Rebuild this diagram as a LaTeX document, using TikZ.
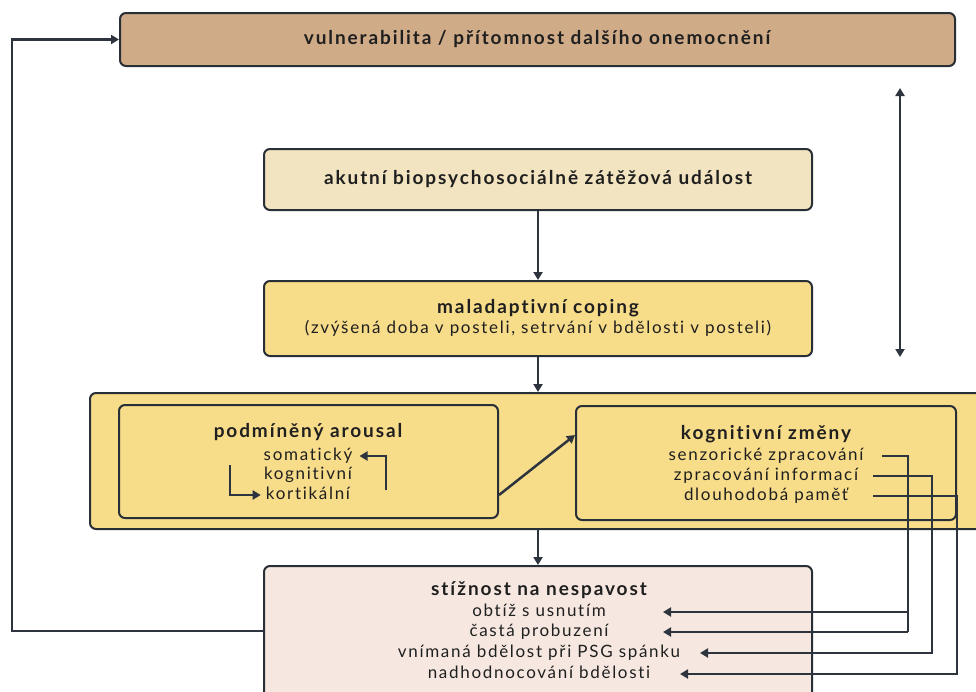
\documentclass[tikz,border=0pt]{standalone}
\usepackage{fontspec}
\setmainfont{Lato}[LetterSpace=10,Ligatures=NoCommon]
\usetikzlibrary{arrows.meta,calc}
\definecolor{tanc}{HTML}{CFAB88}
\definecolor{creamc}{HTML}{F2E4C0}
\definecolor{yelc}{HTML}{F7DC8A}
\definecolor{pinkc}{HTML}{F6E8E1}
\definecolor{inkc}{HTML}{2E343D}
\tikzset{
  box/.style={draw=inkc!90!black, line width=2pt, rounded corners=6pt, inner sep=0pt},
  txt/.style={inner sep=0pt, text height=12pt, text depth=4pt, font=\fontsize{17}{19}\selectfont, text=black!88},
  ttl/.style={txt, font=\fontsize{19}{21}\selectfont\bfseries},
  line/.style={draw=inkc, line width=2.5pt},
  arr/.style={line, -{Triangle[length=8pt,width=9pt]}},
  darr/.style={line, {Triangle[length=8pt,width=9pt]}-{Triangle[length=8pt,width=9pt]}},
}
\begin{document}
\begin{tikzpicture}[x=1pt,y=-1pt]
\clip (0,0) rectangle (976,691);
\fill[white] (0,0) rectangle (976,691);
% boxes
\node[box, fill=tanc, minimum width=835pt, minimum height=53pt] (top) at (537.5,39.5) {};
\node[box, fill=creamc, minimum width=548pt, minimum height=61pt] (b2) at (538,179.5) {};
\node[box, fill=yelc, minimum width=548pt, minimum height=75pt] (b3) at (538,318.5) {};
\node[box, fill=yelc, minimum width=905pt, minimum height=136pt] (big) at (542.5,461) {};
\node[box, fill=yelc, minimum width=379pt, minimum height=113pt] (inL) at (308.5,461.5) {};
\node[box, fill=yelc, minimum width=380pt, minimum height=114pt] (inR) at (766,463) {};
\node[box, fill=pinkc, minimum width=548pt, minimum height=134pt] (bot) at (538,633) {};
% texts
\node[ttl] (tT) at (537,40) {vulnerabilita / přítomnost dalšího onemocnění};
\node[ttl] (t2) at (538,180) {akutní biopsychosociálně zátěžová událost};
\node[ttl] (t3a) at (538,309) {maladaptivní coping};
\node[txt] (t3b) at (538,329) {(zvýšená doba v posteli, setrvání v bdělosti v posteli)};
\node[ttl] (tL) at (308,433) {podmíněný arousal};
\node[txt] (som) at (308,456) {somatický};
\node[txt] (kog) at (308,475) {kognitivní};
\node[txt] (kor) at (308,495) {kortikální};
\node[ttl] (tR) at (766,435) {kognitivní změny};
\node[txt] (senz) at (766,456) {senzorické zpracování};
\node[txt] (zpr) at (766,476) {zpracování informací};
\node[txt] (dlou) at (766,496) {dlouhodobá paměť};
\node[ttl] (tB) at (539,591) {stížnost na nespavost};
\node[txt] (obt) at (539,612) {obtíž s usnutím};
\node[txt] (cast) at (539,632) {častá probuzení};
\node[txt] (vnim) at (539,653) {vnímaná bdělost při PSG spánku};
\node[txt] (nadh) at (539,674) {nadhodnocování bdělosti};
% helper coordinates
\coordinate (fb) at (12,631);
\coordinate (dA) at (900,88);
\coordinate (dB) at (900,357);
\coordinate (ra) at (386,490);
\coordinate (la) at (230,465);
\coordinate (x1) at (908,0);
\coordinate (x2) at (932,0);
\coordinate (x3) at (957,0);
\coordinate (s1) at (882,0);
\coordinate (s2) at (873,0);
\coordinate (t1) at (663,0);
\coordinate (t3) at (700,0);
\coordinate (t4) at (680,0);
% connectors
\draw[arr] (bot.west |- fb) -- (fb) |- (top.west);
\draw[darr] (dA) -- (dB);
\draw[arr] (b2.south) -- (b3.north);
\draw[arr] (b3.south) -- (b3.south |- big.north);
\draw[arr] (bot.north |- big.south) -- (bot.north);
\draw[arr] ([yshift=-33.5pt]inL.east) -- ([yshift=28pt]inR.west);
\draw[arr] (ra) |- ([xshift=7pt]som.east);
\draw[arr] (la) |- ([xshift=-5pt]kor.west);
\draw[line] (s1 |- senz) -| (x1 |- cast);
\draw[arr] (x1 |- obt) -- (t1 |- obt);
\draw[arr] (x1 |- cast) -- (t1 |- cast);
\draw[arr] (s2 |- zpr) -| (x2 |- vnim) -- (t3 |- vnim);
\draw[arr] (s2 |- dlou) -| (x3 |- nadh) -- (t4 |- nadh);
\end{tikzpicture}
\end{document}
